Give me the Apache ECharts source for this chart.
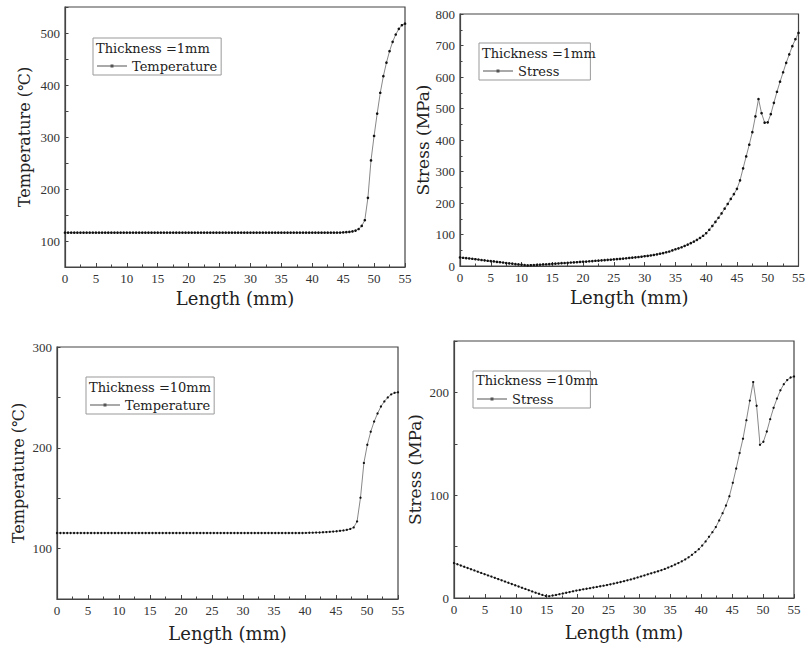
<!DOCTYPE html>
<html>
<head>
<meta charset="utf-8">
<script src="https://cdn.jsdelivr.net/npm/echarts@6/dist/echarts.min.js"></script>
<style>
html,body{margin:0;padding:0;background:#fff;}
#c{width:808px;height:647px;}
</style>
</head>
<body>
<div id="c"></div>
<script>
// Length sample positions (mm)
const lengthA = [
0,0.5,1,1.5,2,2.5,3,3.5,4,4.5,
5,5.5,6,6.5,7,7.5,8,8.5,9,9.5,
10,10.5,11,11.5,12,12.5,13,13.5,14,14.5,
15,15.5,16,16.5,17,17.5,18,18.5,19,19.5,
20,20.5,21,21.5,22,22.5,23,23.5,24,24.5,
25,25.5,26,26.5,27,27.5,28,28.5,29,29.5,
30,30.5,31,31.5,32,32.5,33,33.5,34,34.5,
35,35.5,36,36.5,37,37.5,38,38.5,39,39.5,
40,40.5,41,41.5,42,42.5,43,43.5,44,44.5,
45,45.5,46,46.5,47,47.5,48,48.5,49,49.5,
50,50.5,51,51.5,52,52.5,53,53.5,54,54.5,
55];
const lengthB = [
0,0.55,1.1,1.65,2.2,2.75,3.3,3.85,4.4,4.95,
5.5,6.05,6.6,7.15,7.7,8.25,8.8,9.35,9.9,10.45,
11,11.55,12.1,12.65,13.2,13.75,14.3,14.85,15.4,15.95,
16.5,17.05,17.6,18.15,18.7,19.25,19.8,20.35,20.9,21.45,
22,22.55,23.1,23.65,24.2,24.75,25.3,25.85,26.4,26.95,
27.5,28.05,28.6,29.15,29.7,30.25,30.8,31.35,31.9,32.45,
33,33.55,34.1,34.65,35.2,35.75,36.3,36.85,37.4,37.95,
38.5,39.05,39.6,40.15,40.7,41.25,41.8,42.35,42.9,43.45,
44,44.55,45.1,45.65,46.2,46.75,47.3,47.85,48.4,48.95,
49.5,50.05,50.6,51.15,51.7,52.25,52.8,53.35,53.9,54.45,
55];

// Thickness = 1mm
const temp1mm = [
116,116,116,116,116,116,116,116,116,116,
116,116,116,116,116,116,116,116,116,116,
116,116,116,116,116,116,116,116,116,116,
116,116,116,116,116,116,116,116,116,116,
116,116,116,116,116,116,116,116,116,116,
116,116,116,116,116,116,116,116,116,116,
116,116,116,116,116,116,116,116,116,116,
116,116,116,116,116,116,116,116,116,116,
116,116,116,116,116,116,116,116,116,116.2,
116.5,117,117.5,118.5,120,123,129,140,183,255,
302,345,385,417,443,465,483,497,508,515,
518];
const stress1mm = [
27,26,25,24,23,21.5,20.5,19,18,16.5,
15.5,14.5,13,12,11,9.5,8.5,7.5,6,5,
4,3,2,2.5,3,3.5,4,5,5.5,6,
7,7.5,8,9,9.5,10,11,11.5,12,13,
13.5,14,15,15.5,16.5,17,18,18.5,19.5,20,
21,22,22.5,23.5,24.5,25.5,26.5,27.5,28.5,29.5,
31,32,33.5,35,37,39,41,43.5,46,49.5,
53,56,59.5,63.5,68,72.5,77.5,83,89,96,
104,115,127,140,153,167,182,197,213,228,
245,272,310,348,385,425,475,530,485,455,
456,482,518,553,585,615,645,672,698,720,
740];

// Thickness = 10mm
const temp10mm = [
115.5,115.5,115.5,115.5,115.5,115.5,115.5,115.5,115.5,115.5,
115.5,115.5,115.5,115.5,115.5,115.5,115.5,115.5,115.5,115.5,
115.5,115.5,115.5,115.5,115.5,115.5,115.5,115.5,115.5,115.5,
115.5,115.5,115.5,115.5,115.5,115.5,115.5,115.5,115.5,115.5,
115.5,115.5,115.5,115.5,115.5,115.5,115.5,115.5,115.5,115.5,
115.5,115.5,115.5,115.5,115.5,115.5,115.5,115.5,115.5,115.5,
115.5,115.5,115.5,115.5,115.5,115.5,115.5,115.5,115.5,115.5,
115.5,115.5,115.5,115.6,115.7,115.8,115.9,116,116.2,116.4,
116.6,116.9,117.2,117.6,118,118.6,119.5,121,127,150.5,
185,203,216,226,234,241,246,250,253,254.5,
255];
const stress10mm = [
34,32.8,31.6,30.4,29.2,28,26.8,25.6,24.4,23.2,
22,20.8,19.6,18.4,17.2,16,14.8,13.6,12.4,11.2,
10,8.8,7.6,6.4,5.2,4.1,3,2,1.8,2.4,
3,3.7,4.4,5.1,5.8,6.5,7.2,7.8,8.4,9,
9.6,10.2,10.8,11.4,12,12.6,13.3,14,14.8,15.6,
16.4,17.2,18.1,19,20,21,22,23,24,25,
26,27.1,28.3,29.6,31,32.5,34,35.7,37.5,39.6,
42,44.7,47.5,51,55,59.5,64,69,75.5,82.5,
90,99,112,126,141,155,173,192,210,187,
149,152,162,174,185,194,202,208,212,214.5,
215.5];

const thicknessLabels = ['Thickness =1mm', 'Thickness =1mm', 'Thickness =10mm', 'Thickness =10mm'];
const seriesNames = ['Temperature', 'Stress', 'Temperature', 'Stress'];
const yNames = ['Temperature (℃)', 'Stress (MPa)', 'Temperature (℃)', 'Stress (MPa)'];
const xName = 'Length (mm)';

const TXT = '"DejaVu Serif", "Liberation Serif", serif';
const SERIF = '"Liberation Serif", "DejaVu Serif", serif';
const AXC = '#444';

function pairs(xs, ys) { return xs.map((x, i) => [x, ys[i]]); }

const grids = [
  {left: 65, top: 7, width: 340, height: 260},
  {left: 460, top: 14, width: 341, height: 252},
  {left: 57, top: 347, width: 341, height: 252},
  {left: 454, top: 341, width: 340, height: 257}
];
const yCfg = [
  {min: 50, max: 550, interval: 50, gap: 33, fs: 16},
  {min: 0, max: 800, interval: 100, gap: 28, fs: 17, minor: true},
  {min: 50, max: 300, interval: 50, gap: 31, fs: 16},
  {min: 0, max: 250, interval: 50, gap: 31, fs: 17}
];
const xGap = [22, 22, 25, 25];
const legendPos = [
  {left: 93, top: 38, pr: 4},
  {left: 479, top: 43, pr: 31},
  {left: 86, top: 377, pr: 4},
  {left: 473, top: 371, pr: 37}
];
const titlePos = [
  {left: 96, top: 42},
  {left: 482, top: 47},
  {left: 89, top: 381},
  {left: 476, top: 374}
];
const seriesData = [pairs(lengthA, temp1mm), pairs(lengthA, stress1mm), pairs(lengthB, temp10mm), pairs(lengthB, stress10mm)];
const symSize = [2.6, 2.6, 2.3, 2.3];

const iconPath = 'path://M0,3.5L30,3.5L30,4.5L0,4.5Z M13.5,2.5L16.5,2.5L16.5,5.5L13.5,5.5Z';

const option = {
  animation: false,
  backgroundColor: '#fff',
  grid: grids.map(g => Object.assign({show: true, borderColor: AXC, borderWidth: 1.2, backgroundColor: 'transparent'}, g)),
  title: titlePos.map((p, i) => ({
    text: thicknessLabels[i], left: p.left, top: p.top, padding: 0,
    textStyle: {fontFamily: TXT, fontSize: 13, fontWeight: 'normal', color: '#222'}
  })),
  legend: legendPos.map((p, i) => ({
    left: p.left, top: p.top, orient: 'horizontal',
    padding: [21, p.pr, 2, 4],
    borderColor: '#999', borderWidth: 1,
    itemWidth: 30, itemHeight: 3,
    selectedMode: false,
    itemStyle: {color: '#555'},
    data: [{name: seriesNames[i], icon: iconPath}],
    textStyle: {fontFamily: TXT, fontSize: 13, color: '#222', lineHeight: 14}
  })),
  xAxis: grids.map((g, i) => ({
    type: 'value', gridIndex: i, min: 0, max: 55, interval: 5,
    name: xName, nameLocation: 'middle', nameGap: xGap[i],
    nameTextStyle: {fontFamily: TXT, fontSize: 18, color: '#222', lineHeight: 18},
    axisLine: {show: true, onZero: false, lineStyle: {color: AXC, width: 1.2}},
    axisTick: {show: true, inside: true, length: 4, lineStyle: {color: AXC}},
    minorTick: {show: true, splitNumber: 2, length: 2.5, lineStyle: {color: AXC}},
    axisLabel: {fontFamily: SERIF, fontSize: 13, color: '#333', margin: 5},
    splitLine: {show: false}
  })),
  yAxis: yCfg.map((c, i) => ({
    type: 'value', gridIndex: i, min: c.min, max: c.max, interval: c.interval,
    name: yNames[i], nameLocation: 'middle', nameGap: c.gap,
    nameTextStyle: {fontFamily: TXT, fontSize: c.fs, color: '#222'},
    axisLine: {show: true, onZero: false, lineStyle: {color: AXC, width: 1.2}},
    axisTick: {show: true, inside: true, length: 3.5, lineStyle: {color: AXC}},
    minorTick: {show: !!c.minor, splitNumber: 2, length: 2.5, lineStyle: {color: AXC}},
    axisLabel: {fontFamily: SERIF, fontSize: 13, color: '#333', margin: 5,
      formatter: v => (v % 100 === 0 ? String(v) : '')},
    splitLine: {show: false}
  })),
  series: seriesData.map((d, i) => ({
    type: 'line', name: seriesNames[i], xAxisIndex: i, yAxisIndex: i,
    data: d, symbol: 'circle', symbolSize: symSize[i], showSymbol: true,
    itemStyle: {color: '#111'},
    lineStyle: {color: '#888', width: 1},
    emphasis: {disabled: true}, silent: true
  }))
};

const chart = echarts.init(document.getElementById('c'), null, {renderer: 'svg'});
chart.setOption(option);
</script>
</body>
</html>
